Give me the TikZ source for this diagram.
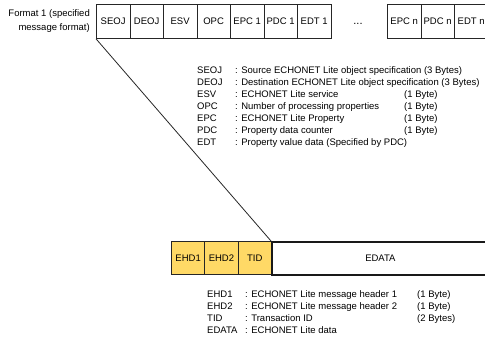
\documentclass[tikz,border=0pt]{standalone}
\usepackage{fontspec}
\setmainfont{Liberation Sans}
\definecolor{hdryellow}{RGB}{255,217,102}
\begin{document}
\begin{tikzpicture}[x=1pt,y=-1pt,
  every node/.style={font=\fontsize{9.5}{13.5}\selectfont, inner sep=0pt},
  field/.style={draw=black!85, line width=0.8pt, minimum width=33.5pt, minimum height=34pt, anchor=north west},
  hdr/.style={draw=black!85, fill=hdryellow, line width=0.9pt, minimum width=33.4pt, minimum height=33pt, anchor=north west},
  databox/.style={draw=black!90, line width=1.8pt, minimum width=217pt, minimum height=33pt, anchor=north west},
  legkey/.style={anchor=base west},
  fan/.style={draw=black!85, line width=0.8pt}]
\useasboundingbox (0,0) rectangle (485,340);
\clip (0,0) rectangle (485,340);

% label
\node[anchor=east, align=right] (fmt) at (90,21) {Format 1 (specified\\message format)};

% top row
\node[field] (SEOJ) at (96,4) {SEOJ};
\node[field] (DEOJ) at (129.5,4) {DEOJ};
\node[field] (ESV) at (163,4) {ESV};
\node[field] (OPC) at (196.5,4) {OPC};
\node[field] (EPC1) at (230,4) {EPC 1};
\node[field] (PDC1) at (263.5,4) {PDC 1};
\node[field] (EDT1) at (297,4) {EDT 1};
\node[anchor=base, font=\fontsize{11}{13}\selectfont] (dots) at (358,24) {...};
\node[field] (EPCn) at (387,4) {EPC n};
\node[field] (PDCn) at (420.5,4) {PDC n};
\node[field] (EDTn) at (454,4) {EDT n};

% legend 1
\foreach \i/\k/\d/\yy in {1/SEOJ/Source ECHONET Lite object specification (3 Bytes)/73.5,
  2/DEOJ/Destination ECHONET Lite object specification (3 Bytes)/85.5,
  3/ESV/ECHONET Lite service/97.5,
  4/OPC/Number of processing properties/109.5,
  5/EPC/ECHONET Lite Property/121.5,
  6/PDC/Property data counter/133.5,
  7/EDT/Property value data (Specified by PDC)/145.5}{
  \node[legkey] (ka\i) at (197,\yy) {\k};
  \node[legkey] (da\i) at (235,\yy) {: \d};
}
\node[legkey] (ba3) at (404,97.5) {(1 Byte)};
\node[legkey] (ba4) at (404,109.5) {(1 Byte)};
\node[legkey] (ba5) at (404,121.5) {(1 Byte)};
\node[legkey] (ba6) at (404,133.5) {(1 Byte)};

% bottom row
\node[hdr] (EHD1) at (171,241) {EHD1};
\node[hdr] (EHD2) at (204.3,241) {EHD2};
\node[hdr] (TID) at (237.6,241) {TID};
\node[databox] (EDATA) at (271,241) {EDATA};

\draw[fan] (SEOJ.south west) -- (EDATA.north west);

% legend 2
\foreach \i/\k/\d/\yy in {1/EHD1/ECHONET Lite message header 1/297.5,
  2/EHD2/ECHONET Lite message header 2/309.5,
  3/TID/Transaction ID/321.5,
  4/EDATA/ECHONET Lite data/333.5}{
  \node[legkey] (kb\i) at (207,\yy) {\k};
  \node[legkey] (db\i) at (245,\yy) {: \d};
}
\node[legkey] (bb1) at (417,297.5) {(1 Byte)};
\node[legkey] (bb2) at (417,309.5) {(1 Byte)};
\node[legkey] (bb3) at (417,321.5) {(2 Bytes)};
\end{tikzpicture}
\end{document}
